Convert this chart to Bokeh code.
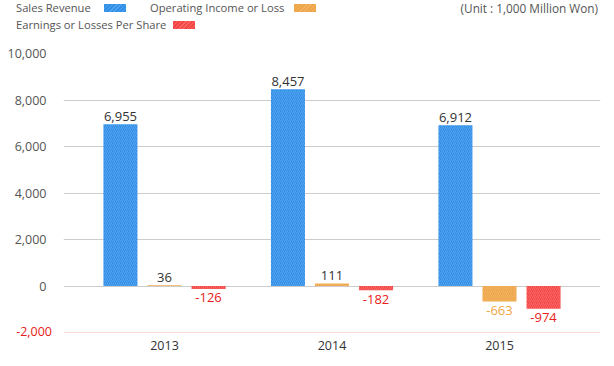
from bokeh.plotting import figure
from bokeh.models import (ColumnDataSource, FactorRange, FixedTicker, NumeralTickFormatter,
                          Span, Div)
from bokeh.layouts import column
from bokeh.transform import dodge
from bokeh.embed import file_html
from bokeh.resources import INLINE

# ---- data ----
years = ["2013", "2014", "2015"]
sales_revenue = [6955, 8457, 6912]
operating_income = [36, 111, -663]
earnings_per_share = [-126, -182, -974]
y_ticks = [0, 2000, 4000, 6000, 8000, 10000]
y_min, y_max = -2000, 10000

series_names = ["Sales Revenue", "Operating Income or Loss", "Earnings or Losses Per Share"]
unit_text = "(Unit : 1,000 Million Won)"

BLUE = "#2f8fe9"
ORANGE = "#efa545"
RED = "#f54646"
RED_TXT = "#e82020"
ORANGE_TXT = "#f0a648"
FONT = "Open Sans"


def fmt(v):
    return f"{v:,}"


def lab_color(vals, neg_color):
    return ["#333333" if v >= 0 else neg_color for v in vals]


def lab_off(vals):
    return [-8 if v >= 0 else 9 for v in vals]


src = ColumnDataSource(dict(
    year=years,
    sales=sales_revenue, op=operating_income, eps=earnings_per_share,
    sales_t=[fmt(v) for v in sales_revenue],
    op_t=[fmt(v) for v in operating_income],
    eps_t=[fmt(v) for v in earnings_per_share],
    sales_c=lab_color(sales_revenue, BLUE),
    op_c=lab_color(operating_income, ORANGE_TXT),
    eps_c=lab_color(earnings_per_share, RED_TXT),
    sales_o=lab_off(sales_revenue),
    op_o=lab_off(operating_income),
    eps_o=lab_off(earnings_per_share),
))

# ---- header (legend + unit) and the red -2,000 tick label ----
def item(name, color, gap):
    sw = (f'display:inline-block;vertical-align:middle;margin-left:{gap}px;width:22px;height:8px;'
          f'background:{color};background-image:repeating-linear-gradient(135deg,'
          f'rgba(255,255,255,0.18) 0 1px, transparent 1px 3px);')
    return f'<span style="vertical-align:middle;">{name}</span><span style="{sw}"></span>'

header_html = f"""
<div style="position:relative;width:614px;height:38px;font-family:'{FONT}';font-size:11.2px;color:#555;line-height:14px;white-space:nowrap;">
  <div style="position:absolute;left:16px;top:0px;">{item(series_names[0], BLUE, 13)}</div>
  <div style="position:absolute;left:150px;top:0px;">{item(series_names[1], ORANGE, 10)}</div>
  <div style="position:absolute;right:16px;top:0px;font-size:11.8px;line-height:16px;">{unit_text}</div>
  <div style="position:absolute;left:16px;top:17px;">{item(series_names[2], RED, 7)}</div>
  <span style="position:absolute;right:562px;top:325px;font-size:12.5px;line-height:14px;color:{RED_TXT};z-index:5;">{fmt(y_min)}</span>
</div>
"""
header = Div(text=header_html, width=614, height=38, margin=(0, 0, 0, 0))

# ---- main chart ----
p = figure(x_range=FactorRange(factors=years, range_padding=0.103, range_padding_units="absolute"),
           y_range=(y_min, y_max),
           width=614, height=328, output_backend="svg", toolbar_location=None,
           min_border_left=63, min_border_right=14, min_border_top=15, min_border_bottom=34,
           background_fill_color="white", border_fill_color=None, outline_line_color=None)
p.margin = (0, 0, 0, 0)

W = 0.203
OFF = 0.263
hatch = dict(hatch_pattern="/", hatch_color="white", hatch_alpha=0.18, hatch_scale=4, hatch_weight=1)
p.vbar(x=dodge("year", -OFF, range=p.x_range), top="sales", bottom=0, width=W, source=src,
       fill_color=BLUE, line_color=None, **hatch)
p.vbar(x=dodge("year", 0, range=p.x_range), top="op", bottom=0, width=W, source=src,
       fill_color=ORANGE, line_color=None, **hatch)
p.vbar(x=dodge("year", OFF, range=p.x_range), top="eps", bottom=0, width=W, source=src,
       fill_color=RED, line_color=None, **hatch)

for dx, ycol, tcol, ccol, ocol in [(-OFF, "sales", "sales_t", "sales_c", "sales_o"),
                                   (0, "op", "op_t", "op_c", "op_o"),
                                   (OFF, "eps", "eps_t", "eps_c", "eps_o")]:
    p.text(x=dodge("year", dx, range=p.x_range), y=ycol, text=tcol, source=src,
           text_color=ccol, y_offset=ocol, text_align="center", text_baseline="middle",
           text_font_size="13px", text_font={"value": FONT})

# axes
p.yaxis.ticker = FixedTicker(ticks=y_ticks)
p.yaxis.formatter = NumeralTickFormatter(format="0,0")
p.yaxis.axis_line_color = None
p.yaxis.major_tick_line_color = None
p.yaxis.minor_tick_line_color = None
p.yaxis.major_label_standoff = 11
p.yaxis.major_label_text_color = "#555555"
p.yaxis.major_label_text_font = FONT
p.yaxis.major_label_text_font_size = "12.5px"

p.xaxis.axis_line_color = None
p.xaxis.major_tick_line_color = None
p.xaxis.minor_tick_line_color = None
p.xaxis.major_label_standoff = 2
p.xaxis.major_label_text_color = "#333333"
p.xaxis.major_label_text_font = FONT
p.xaxis.major_label_text_font_size = "12.5px"

p.xgrid.grid_line_color = None
p.ygrid.grid_line_color = "#cccccc"
p.ygrid.ticker = FixedTicker(ticks=y_ticks)

# bottom (negative) boundary line
p.add_layout(Span(location=y_min, dimension="width", line_color="#f8b0b0", line_width=1))

layout = column(header, p, spacing=0)
layout.margin = (0, 0, 0, 0)

open("out.html", "w").write(file_html(layout, INLINE))
